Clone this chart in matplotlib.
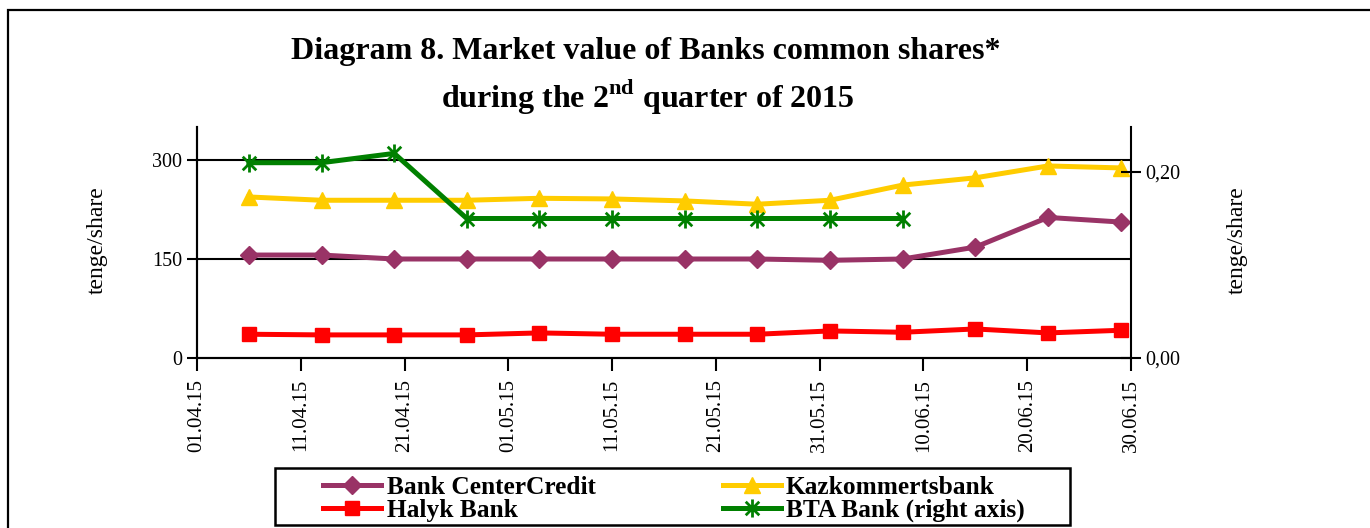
import matplotlib
matplotlib.use("Agg")
import matplotlib.pyplot as plt
import matplotlib.dates as mdates
from matplotlib.patches import Rectangle
from matplotlib.path import Path
import pandas as pd

# data
dates = ["06.04.15", "13.04.15", "20.04.15", "27.04.15", "04.05.15", "11.05.15", "18.05.15",
         "25.05.15", "01.06.15", "08.06.15", "15.06.15", "22.06.15", "29.06.15"]
bank_centercredit = [156, 156, 150, 150, 150, 150, 150, 150, 148, 150, 168, 213, 206]
kazkommertsbank = [244, 239, 239, 239, 242, 241, 238, 233, 239, 262, 273, 291, 288]
halyk_bank = [36, 35, 35, 35, 38, 36, 36, 36, 41, 39, 44, 38, 42]
bta_bank = [0.21, 0.21, 0.22, 0.15, 0.15, 0.15, 0.15, 0.15, 0.15, 0.15]  # right axis

series_names = ["Bank CenterCredit", "Halyk Bank", "Kazkommertsbank", "BTA Bank (right axis)"]
left_ticks = [0, 150, 300]
right_ticks = [0.0, 0.2]

plt.rcParams['font.family'] = ['Liberation Serif', 'DejaVu Serif']
plt.rcParams['mathtext.fontset'] = 'custom'
plt.rcParams['mathtext.rm'] = 'Liberation Serif:bold'
plt.rcParams['mathtext.bf'] = 'Liberation Serif:bold'

W, H = 1370, 528
fig = plt.figure(figsize=(W / 100, H / 100), dpi=100)

# outer frame of the chart (right and bottom edges fall outside the picture)
fig.patches.append(Rectangle((8 / W, -0.05), 1.1, 1.05 - 10 / H,
                             transform=fig.transFigure, fill=False, edgecolor='black', lw=1.6))

ax = fig.add_axes([197 / W, 1 - 358 / H, (1131 - 197) / W, (358 - 127) / H])
ax2 = ax.twinx()

x = pd.to_datetime(dates, format="%d.%m.%y")
ax.set_xlim(pd.Timestamp("2015-04-01"), pd.Timestamp("2015-06-30"))
ax.set_ylim(0, 350)
ax2.set_ylim(0, 0.2 * 231 / 186)

for v in left_ticks[1:]:
    ax.axhline(v, color='black', lw=1.5, zorder=1)

lw = 3.6
l1, = ax.plot(x, bank_centercredit, color='#993366', lw=lw, marker='D', markersize=9, zorder=3)
l2, = ax.plot(x, halyk_bank, color='#FF0000', lw=lw, marker='s', markersize=10.5, zorder=3)
l3, = ax.plot(x, kazkommertsbank, color='#FFCC00', lw=lw, marker='^', markersize=11, zorder=3)

star = Path([(0, -1), (0, 1), (-0.75, -0.75), (0.75, 0.75), (-0.75, 0.75), (0.75, -0.75)],
            [Path.MOVETO, Path.LINETO, Path.MOVETO, Path.LINETO, Path.MOVETO, Path.LINETO])
l4, = ax2.plot(x[:len(bta_bank)], bta_bank, color='#008000', lw=lw, marker=star, markersize=13,
               markeredgewidth=2, zorder=3)

ax.set_xticks(pd.date_range("2015-04-01", periods=10, freq="10D"))
ax.xaxis.set_major_formatter(mdates.DateFormatter("%d.%m.%y"))
ax.tick_params(axis='x', rotation=90, labelsize=15, direction='out', length=9, width=1.5, pad=6)
ax.set_yticks(left_ticks)
ax.tick_params(axis='y', labelsize=14.5, direction='out', length=7, width=1.5)
ax2.set_yticks(right_ticks)
ax2.set_yticklabels([f"{v:.2f}".replace('.', ',') for v in right_ticks])
ax2.tick_params(axis='y', labelsize=14.5, direction='inout', length=14, width=1.5)

for a in (ax, ax2):
    a.spines['top'].set_visible(False)
    for s in ('left', 'right', 'bottom'):
        a.spines[s].set_linewidth(1.5)
ax.spines['right'].set_visible(False)

fig.text(97 / W, 1 - 240 / H, "tenge/share", rotation=90, fontsize=17, ha='center', va='center')
fig.text(1237 / W, 1 - 240 / H, "tenge/share", rotation=90, fontsize=17, ha='center', va='center')

fig.text(646 / W, 1 - 51 / H, "Diagram 8. Market value of Banks common shares*",
         fontsize=23, fontweight='bold', ha='center', va='center')
fig.text(648 / W, 1 - 97 / H, r"during the 2$^{\mathrm{nd}}$ quarter of 2015",
         fontsize=23, fontweight='bold', ha='center', va='center')

# legend box
fig.patches.append(Rectangle((275 / W, 1 - 525 / H), (1070 - 275) / W, (525 - 468) / H,
                             transform=fig.transFigure, fill=False, edgecolor='black', lw=1.8))
fig.legend([l1, l2, l3, l4], series_names, ncol=2, loc='upper left',
           bbox_to_anchor=(323 / W, 1 - 476 / H), frameon=False,
           prop={'weight': 'bold', 'size': 18.3}, handlelength=2.3, handletextpad=0.2,
           columnspacing=5.0, labelspacing=0.0, borderpad=0, borderaxespad=0)

fig.savefig("out.png", dpi=100)
